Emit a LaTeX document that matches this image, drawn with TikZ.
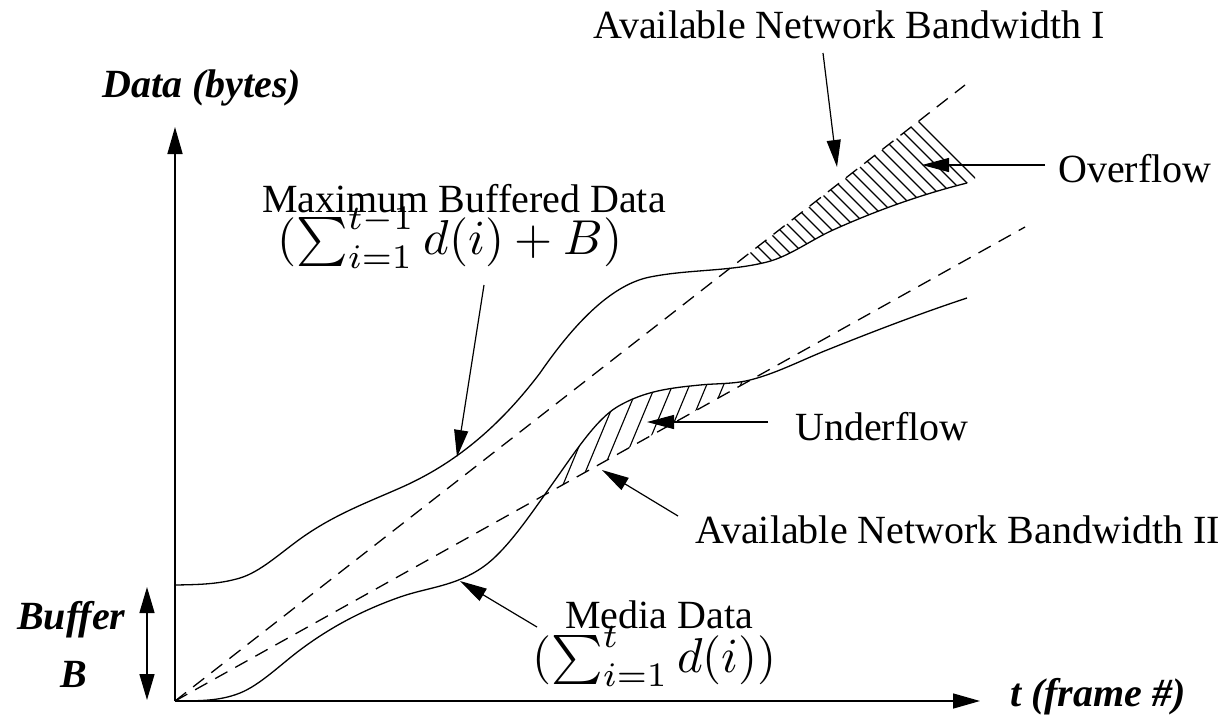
\documentclass[tikz,border=0pt]{standalone}
\usepackage[no-math]{fontspec}
\setmainfont{Liberation Serif}
\usetikzlibrary{arrows.meta}
\newcommand{\bigmath}[1]{\scalebox{4.9}{$#1$}}
\newcommand{\maxcurve}{(175,585) .. controls (196.7,584.6) and (218.3,584.5) .. (240,578)
  .. controls (260,572) and (280,553.4) .. (300,539)
  .. controls (333.3,515) and (366.7,502.7) .. (400,488)
  .. controls (446.7,467.5) and (493.3,434.6) .. (540,373)
  .. controls (576.7,319.8) and (613.3,284.3) .. (650,277)
  .. controls (689,269.2) and (728,271.75) .. (767,262)
  .. controls (789,256.5) and (811,239.9) .. (833,230)
  .. controls (877.7,209.9) and (922.3,194.2) .. (967,183)}
\newcommand{\medcurve}{(175,701) .. controls (196.7,700.6) and (218.3,701.7) .. (240,693)
  .. controls (260,685) and (280,665) .. (300,650)
  .. controls (333.3,625) and (366.7,608.7) .. (400,597)
  .. controls (427.7,587.3) and (455.3,586.4) .. (483,567)
  .. controls (506.3,550.7) and (529.7,515.7) .. (553,483)
  .. controls (574.3,453.1) and (595.7,419.8) .. (617,407)
  .. controls (644.7,390.4) and (672.3,387.8) .. (700,385)
  .. controls (716.7,383.3) and (733.3,384.2) .. (750,380)
  .. controls (775.7,373.6) and (801.3,360.3) .. (827,350)
  .. controls (873.7,331.3) and (920.3,313.4) .. (967,298)}
\tikzset{
  lbl/.style={inner sep=0pt, anchor=base west, font=\fontsize{40}{48}\selectfont},
  axlbl/.style={inner sep=0pt, anchor=base west, font=\fontsize{40}{48}\selectfont\bfseries\itshape},
  frm/.style={inner sep=0pt, anchor=base west},
  curve/.style={line width=1.3pt},
  bwline/.style={line width=1.3pt, dash pattern=on 14pt off 9pt},
  axis/.style={line width=1.6pt, -{Triangle[length=27pt,width=15pt]}},
  pointer/.style={line width=1.2pt, -{Triangle[length=27pt,width=14pt]}},
  buf/.style={line width=1.4pt, {Triangle[length=26pt,width=15pt]}-{Triangle[length=26pt,width=15pt]}},
  hatch/.style={line width=1.1pt},
}
\begin{document}
\begin{tikzpicture}[x=1pt,y=-1pt]
\useasboundingbox (0,0) rectangle (1228,724);

% axes
\coordinate (O) at (175,701);
\coordinate (ytop) at (175,127);
\coordinate (xend) at (980,701);
\draw[axis] (O) -- (ytop);
\draw[axis] (O) -- (xend);

% buffer arrow
\coordinate (bt) at (147,587);
\coordinate (bb) at (147,700);
\draw[buf] (bt) -- (bb);

% bandwidth lines
\coordinate (bw1end) at (965,85);
\coordinate (bw2end) at (1025,227);
\draw[bwline] (O) -- (bw1end);
\draw[bwline] (O) -- (bw2end);

% overflow hatch
\begin{scope}
  \clip (175,0) -- \maxcurve -- (975,183) -- (975,0) -- cycle;
  \clip (175,701) -- (1000,58) -- (1000,724) -- (175,724) -- cycle;
  \foreach \c in {498,511,...,800} \draw[hatch] ({\c+40},40) -- ({\c+300},300);
\end{scope}

% underflow hatch
\begin{scope}
  \clip (175,724) -- \medcurve -- (967,724) -- cycle;
  \clip (175,701) -- (1025,227) -- (1025,0) -- (175,0) -- cycle;
  \foreach \c in {680,697,...,990} \draw[hatch] ({\c-41.67},100) -- ({\c-301.67},724);
\end{scope}

% curves
\draw[curve] \maxcurve;
\draw[curve] \medcurve;

% labels
\node[axlbl] (ylab) at (102,97) {Data (bytes)};
\node[axlbl] (xlab) at (1010,706) {t (frame \#)};
\node[axlbl] (buflab) at (17,629) {Buffer};
\node[axlbl] (blab) at (60,687) {B};
\node[lbl] (maxlab) at (262,212) {Maximum Buffered Data};
\node[frm] (maxf) at (277,254) {\bigmath{(\sum_{i=1}^{t-1} d(i) + B)}};
\node[lbl] (medlab) at (565,628) {Media Data};
\node[frm] (medf) at (532,672) {\bigmath{(\sum_{i=1}^{t} d(i))}};
\node[lbl] (undlab) at (795,440) {Underflow};
\node[lbl] (bw2lab) at (695,543) {Available Network Bandwidth II};
\node[lbl] (ovlab) at (1058,182) {Overflow};
\node[lbl] (bw1lab) at (593,38) {Available Network Bandwidth I};

% pointers
\coordinate (p1a) at (484,285); \coordinate (p1b) at (457,457);
\coordinate (p2a) at (537,627); \coordinate (p2b) at (460,581);
\coordinate (p3a) at (678,516); \coordinate (p3b) at (602,470);
\coordinate (p4a) at (768,422); \coordinate (p4b) at (647,422);
\coordinate (p5a) at (1045,165); \coordinate (p5b) at (922,165);
\coordinate (p6a) at (823,53);  \coordinate (p6b) at (837,167);
\draw[pointer] (p1a) -- (p1b);
\draw[pointer] (p2a) -- (p2b);
\draw[pointer] (p3a) -- (p3b);
\draw[pointer] (p4a) -- (p4b);
\draw[pointer] (p5a) -- (p5b);
\draw[pointer] (p6a) -- (p6b);
\end{tikzpicture}
\end{document}
